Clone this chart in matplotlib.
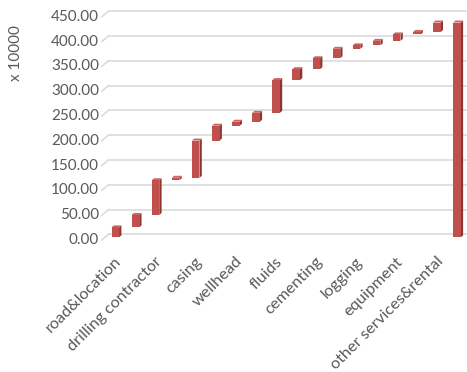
import matplotlib
matplotlib.use("Agg")
import matplotlib.pyplot as plt
import matplotlib.transforms as mtransforms
from matplotlib.patches import Polygon

plt.rcParams['font.family'] = ['Lato', 'DejaVu Sans']

# ---- data (values in units of 10000) ----
increments = [20, 25, 70, 5, 75, 30, 8, 18, 66, 22, 22, 19, 7, 9, 13, 5, 19]
tick_labels = ["road&location", "drilling contractor", "casing", "wellhead",
               "fluids", "cementing", "logging", "equipment",
               "other services&rental"]
y_ticks = [0, 50, 100, 150, 200, 250, 300, 350, 400, 450]
unit_label = "x 10000"

# ---- derived waterfall bars ----
starts, ends = [], []
cum = 0
for v in increments:
    starts.append(cum)
    cum += v
    ends.append(cum)
starts.append(0)
ends.append(cum)          # total bar
n = len(starts)

W, H, DPI = 467, 372, 100
fig = plt.figure(figsize=(W / DPI, H / DPI), dpi=DPI)
px_per_unit = 0.496
y0_px = 237.3
ylo, yhi = -10, 470
x_left_px, x_right_px = 100, 467
bar0_px, step_px = 115.3, 20.1
xlo = (x_left_px - bar0_px) / step_px
xhi = (x_right_px - bar0_px) / step_px
bottom_px = y0_px - ylo * px_per_unit
top_px = y0_px - yhi * px_per_unit
ax = fig.add_axes([x_left_px / W, 1 - bottom_px / H,
                   (x_right_px - x_left_px) / W, (bottom_px - top_px) / H])
ax.set_xlim(xlo, xhi)
ax.set_ylim(ylo, yhi)
ax.set_axis_off()

grid_c = "#D9D9D9"
text_c = "#595959"
front_c = "#C0504D"
top_c = "#CD6663"
side_c = "#8E3431"

# depth of the 3D look in data units
dx = 2.3 / step_px
dy = 2.0 / px_per_unit
grid_up = 3.0 / px_per_unit
lab_down = 2.7 / px_per_unit

# back-wall gridlines + perspective edge
for t in y_ticks:
    ax.plot([-0.34, xhi], [t + grid_up, t + grid_up], color=grid_c, lw=1.1,
            zorder=1, solid_capstyle='butt')
    ax.plot([-0.67, -0.34], [t - lab_down, t + grid_up], color=grid_c, lw=1.1,
            zorder=1)
    ax.text(-0.8, t - lab_down, f"{t:.2f}", ha='right', va='center',
            fontsize=11, color=text_c, transform=ax.transData)

bw = 0.378
for i in range(n):
    a, b = starts[i], ends[i]
    x0, x1 = i - bw / 2, i + bw / 2
    # side face
    ax.add_patch(Polygon([(x1, a), (x1 + dx, a + dy), (x1 + dx, b + dy), (x1, b)],
                         closed=True, facecolor=side_c, edgecolor='none', zorder=3))
    # top face
    ax.add_patch(Polygon([(x0, b), (x1, b), (x1 + dx, b + dy), (x0 + dx, b + dy)],
                         closed=True, facecolor=top_c, edgecolor='none', zorder=3))
# front faces
ax.bar(range(n), [e - s for s, e in zip(starts, ends)], bottom=starts, width=bw,
       color=front_c, edgecolor='none', zorder=4)

# category labels (every other category)
offset = mtransforms.ScaledTranslation(4.0 / DPI, -22 / DPI, fig.dpi_scale_trans)
for k, lab in enumerate(tick_labels):
    ax.text(2 * k, 0, lab, rotation=45, rotation_mode='anchor', ha='right',
            va='center', fontsize=11.7, color=text_c,
            transform=ax.transData + offset)

fig.text(16 / W, 1 - 53 / H, unit_label, rotation=90, ha='center', va='center',
         fontsize=11, color=text_c)

fig.savefig("out.png", dpi=DPI)
